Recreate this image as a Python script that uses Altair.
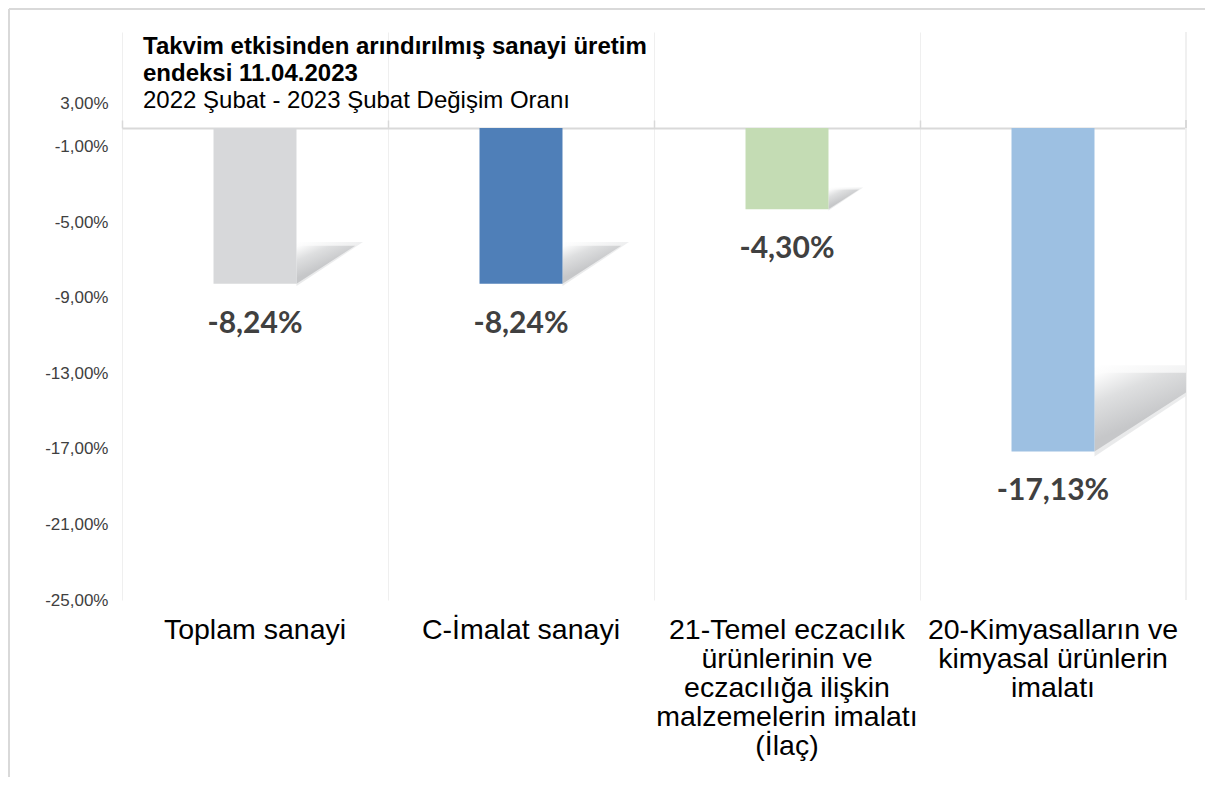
import altair as alt
import pandas as pd

categories = [
    "Toplam sanayi",
    "C-İmalat sanayi",
    "21-Temel eczacılık\nürünlerinin ve\neczacılığa ilişkin\nmalzemelerin imalatı\n(İlaç)",
    "20-Kimyasalların ve\nkimyasal ürünlerin\nimalatı",
]
values = [-8.24, -8.24, -4.30, -17.13]
bar_colors = ["#D7D8DA", "#4F7FB8", "#C4DCB4", "#9DC0E2"]
y_ticks = [3, -1, -5, -9, -13, -17, -21, -25]
title_lines = ["Takvim etkisinden arındırılmış sanayi üretim", "endeksi 11.04.2023"]
subtitle_text = "2022 Şubat - 2023 Şubat Değişim Oranı"

df = pd.DataFrame({"cat": categories, "v": values, "color": bar_colors})

W, H = 1064, 568
x_scale = alt.Scale(domain=categories, paddingInner=0.688, paddingOuter=0.344)
x_slot_scale = alt.Scale(domain=categories, paddingInner=0, paddingOuter=0)
y_scale = alt.Scale(domain=[-25, 5.09], nice=False, zero=False)

y_enc = alt.Y(
    "v:Q",
    scale=y_scale,
    title=None,
    axis=alt.Axis(
        values=y_ticks,
        labelExpr="(datum.value < 0 ? '-' : '') + replace(format(abs(datum.value), '.2f'), '.', ',') + '%'",
        domain=False,
        ticks=False,
        grid=False,
        labelFont="Liberation Sans",
        labelFontSize=17,
        labelColor="#404040",
        labelPadding=14,
        labelOffset={"condition": {"test": "datum.value == 3", "value": 32}, "value": 0},
    ),
)

x_none = alt.X("cat:N", scale=x_scale, sort=categories, axis=None)

base = alt.Chart(df)

# frame layer: zero line, ticks and vertical gridlines at category boundaries
frame = base.mark_bar(opacity=0).encode(
    x=alt.X(
        "cat:N",
        scale=x_slot_scale,
        sort=categories,
        title=None,
        axis=alt.Axis(
            orient="top",
            offset=-96,
            labels=False,
            domainColor="#D9D9D9",
            domainWidth=2,
            tickColor="#D9D9D9",
            tickWidth=1.5,
            tickSize=8,
            bandPosition=0,
            grid=True,
            gridColor="#EFEFEF",
            gridWidth=1,
        ),
    ),
    y=y_enc,
)

right_grid = base.mark_rule(color="#EFEFEF", strokeWidth=1).encode(
    x=alt.value(W), y=alt.value(0), y2=alt.value(H)
)
right_tick = base.mark_rule(color="#D9D9D9", strokeWidth=1.5).encode(
    x=alt.value(W), y=alt.value(88), y2=alt.value(96)
)

soft_fill = alt.LinearGradient(
    gradient="linear",
    stops=[
        alt.GradientStop(offset=0, color="#E4E5E6"),
        alt.GradientStop(offset=1, color="#FFFFFF"),
    ],
    x1=0.4, y1=0.6, x2=0, y2=0,
)
shadow_fill = alt.LinearGradient(
    gradient="linear",
    stops=[
        alt.GradientStop(offset=0, color="#C6C7C9"),
        alt.GradientStop(offset=0.55, color="#DEDFE0"),
        alt.GradientStop(offset=1, color="#FFFFFF"),
    ],
    x1=0.4, y1=0.6, x2=0, y2=0,
)

soft_shadows = base.transform_calculate(s="84.6 * datum.v * datum.v * 1.2").mark_point(
    shape="M0,0.06L0,-1L1.6,-1Z",
    filled=True,
    fill=soft_fill,
    opacity=0.8,
    strokeWidth=0,
    xOffset=41.5,
    clip=True,
).encode(
    x=x_none,
    y=y_enc,
    size=alt.Size("s:Q", scale=None, legend=None),
)

shadows = base.transform_calculate(s="84.6 * datum.v * datum.v").mark_point(
    shape="M0,0L0,-1L1.55,-1Z",
    filled=True,
    fill=shadow_fill,
    opacity=1,
    strokeWidth=0,
    xOffset=41.5,
    clip=True,
).encode(
    x=x_none,
    y=y_enc,
    size=alt.Size("s:Q", scale=None, legend=None),
)

bars = base.mark_bar().encode(
    x=alt.X(
        "cat:N",
        scale=x_scale,
        sort=categories,
        title=None,
        axis=alt.Axis(
            orient="bottom",
            domain=False,
            ticks=False,
            grid=False,
            labelExpr="split(datum.label, '\\n')",
            labelFont="Liberation Sans",
            labelFontSize=28.5,
            labelColor="#000000",
            labelLineHeight=29,
            labelPadding=15,
            labelAngle=0,
            labelLimit=500,
        ),
    ),
    y=y_enc,
    y2=alt.datum(0),
    color=alt.Color("color:N", scale=None, legend=None),
)

labels = base.transform_calculate(
    lbl="(datum.v < 0 ? '-' : '') + replace(format(abs(datum.v), '.2f'), '.', ',') + '%'"
).mark_text(
    dy=40,
    font="Lato",
    fontWeight="bold",
    fontSize=30,
    color="#404040",
).encode(
    x=x_none,
    y=y_enc,
    text=alt.Text("lbl:N"),
)

border_top = base.mark_rule(color="#D9D9D9", strokeWidth=2).encode(
    x=alt.value(-113), x2=alt.value(W + 40), y=alt.value(-23)
)
border_left = base.mark_rule(color="#D9D9D9", strokeWidth=2).encode(
    x=alt.value(-113), y=alt.value(-23), y2=alt.value(H + 200)
)

chart = (
    alt.layer(frame, right_grid, right_tick, soft_shadows, shadows, bars, labels, border_top, border_left)
    .resolve_axis(x="independent")
    .resolve_scale(x="independent")
    .properties(
        width=W,
        height=H,
        autosize=alt.AutoSizeParams(type="none"),
        padding={"left": 114, "top": 24, "right": 19, "bottom": 177},
        background="#FFFFFF",
        title=alt.TitleParams(
            text=title_lines,
            subtitle=subtitle_text,
            anchor="start",
            frame="group",
            orient="top",
            offset=0,
            dx=21,
            dy=105,
            font="Liberation Sans",
            fontSize=24,
            fontWeight="bold",
            color="#000000",
            lineHeight=27,
            subtitleFont="Liberation Sans",
            subtitleFontSize=24,
            subtitleColor="#000000",
            subtitleLineHeight=27,
            subtitlePadding=3,
        ),
    )
    .configure_view(stroke=None)
)

chart.save("out.html", embed_options={"renderer": "svg", "actions": False})
